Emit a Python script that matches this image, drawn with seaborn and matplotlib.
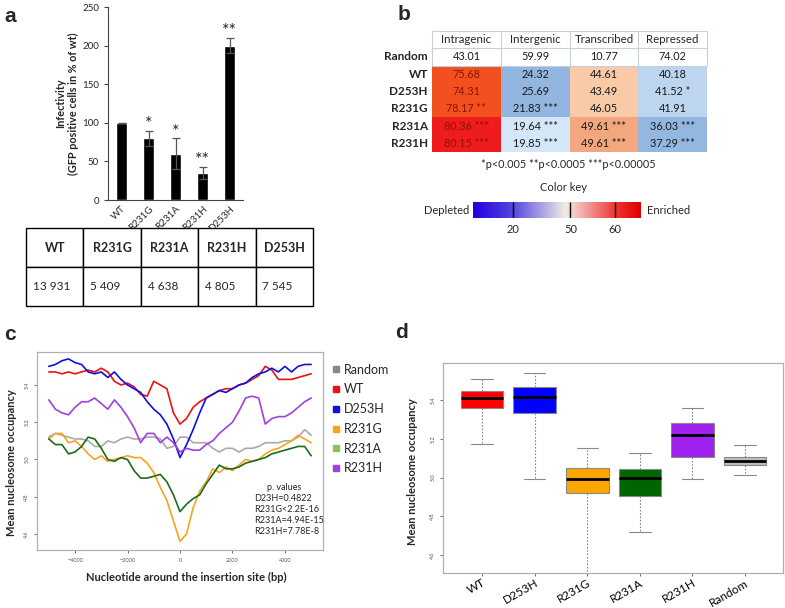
import numpy as np
import pandas as pd
import matplotlib
matplotlib.use("Agg")
import matplotlib.pyplot as plt
from matplotlib.colors import ListedColormap, LinearSegmentedColormap
from matplotlib.lines import Line2D
import seaborn as sns

sns.set_style("white")
plt.rcParams["font.family"] = ["Lato", "DejaVu Sans"]

W, H = 785, 608

# ---------------- panel a ----------------
mutants = ["WT", "R231G", "R231A", "R231H", "D253H"]
infectivity = [100, 80, 60, 35, 200]
infectivity_err = [0, 10, 20, 8, 10]
infectivity_stars = ["", "*", "*", "**", "**"]
table_head = ["WT", "R231G", "R231A", "R231H", "D253H"]
site_counts = ["13 931", "5 409", "4 638", "4 805", "7 545"]

# ---------------- panel b ----------------
regions = ["Intragenic", "Intergenic", "Transcribed", "Repressed"]
b_rows = ["Random", "WT", "D253H", "R231G", "R231A", "R231H"]
pct = [
    [43.01, 59.99, 10.77, 74.02],
    [75.68, 24.32, 44.61, 40.18],
    [74.31, 25.69, 43.49, 41.52],
    [78.17, 21.83, 46.05, 41.91],
    [80.36, 19.64, 49.61, 36.03],
    [80.15, 19.85, 49.61, 37.29],
]
pct_stars = [
    ["", "", "", ""],
    ["", "", "", ""],
    ["", "", "", "*"],
    ["**", "***", "", ""],
    ["***", "***", "***", "***"],
    ["***", "***", "***", "***"],
]
shade = [
    [0, 0, 0, 0],
    [1, 3, 5, 7],
    [1, 3, 5, 7],
    [1, 3, 5, 7],
    [2, 4, 6, 8],
    [2, 4, 6, 8],
]
shade_colors = ["#ffffff", "#f2501f", "#ee1c1c", "#92b6df", "#d3e7f8",
                "#f8caa8", "#f2a77e", "#bed5ef", "#93b7e0"]
key_ticks = ["20", "50", "60"]
key_pos = [0.24, 0.58, 0.845]

# ---------------- panel c ----------------
positions = list(range(-5000, 5001, 250))
occ_random = [5.12, 5.14, 5.13, 5.12, 5.11, 5.11, 5.10, 5.07, 5.07, 5.10, 5.09,
              5.11, 5.12, 5.11, 5.11, 5.12, 5.12, 5.11, 5.06, 5.07, 5.12,
              5.12, 5.09, 5.09, 5.09, 5.06, 5.04, 5.06, 5.06, 5.04, 5.06,
              5.06, 5.07, 5.09, 5.09, 5.09, 5.10, 5.10, 5.12, 5.16, 5.13]
occ_wt = [5.47, 5.47, 5.46, 5.47, 5.46, 5.47, 5.48, 5.47, 5.49, 5.47, 5.42,
          5.40, 5.41, 5.39, 5.35, 5.34, 5.42, 5.40, 5.38, 5.25, 5.19,
          5.22, 5.28, 5.31, 5.33, 5.35, 5.37, 5.38, 5.38, 5.40, 5.41,
          5.43, 5.45, 5.50, 5.48, 5.43, 5.43, 5.43, 5.44, 5.45, 5.46]
occ_d253h = [5.50, 5.51, 5.53, 5.54, 5.52, 5.51, 5.47, 5.46, 5.47, 5.44, 5.47,
             5.43, 5.40, 5.38, 5.36, 5.31, 5.27, 5.24, 5.19, 5.11, 5.01,
             5.08, 5.16, 5.25, 5.33, 5.35, 5.37, 5.36, 5.38, 5.40, 5.41,
             5.44, 5.46, 5.47, 5.49, 5.47, 5.50, 5.47, 5.50, 5.51, 5.51]
occ_r231g = [5.11, 5.14, 5.14, 5.09, 5.10, 5.07, 5.03, 5.00, 5.02, 4.99, 5.00,
             5.01, 5.02, 5.01, 5.01, 4.98, 4.93, 4.85, 4.78, 4.67, 4.56,
             4.60, 4.74, 4.83, 4.88, 4.95, 4.93, 4.96, 4.94, 4.97, 5.00,
             4.99, 5.00, 5.03, 5.05, 5.06, 5.08, 5.10, 5.13, 5.11, 5.09]
occ_r231a = [5.11, 5.08, 5.08, 5.03, 5.04, 5.07, 5.12, 5.11, 5.06, 5.00, 4.99,
             5.01, 5.00, 4.94, 4.90, 4.90, 4.91, 4.92, 4.88, 4.81, 4.72,
             4.76, 4.79, 4.81, 4.87, 4.92, 4.97, 4.95, 4.95, 4.96, 4.98,
             4.99, 5.00, 5.01, 5.03, 5.04, 5.05, 5.06, 5.07, 5.07, 5.02]
occ_r231h = [5.32, 5.27, 5.25, 5.24, 5.28, 5.31, 5.31, 5.33, 5.30, 5.27, 5.32,
             5.28, 5.23, 5.17, 5.09, 5.14, 5.14, 5.09, 5.12, 5.09, 5.04,
             5.06, 5.05, 5.05, 5.08, 5.10, 5.14, 5.17, 5.20, 5.26, 5.33,
             5.34, 5.33, 5.19, 5.22, 5.23, 5.23, 5.25, 5.28, 5.31, 5.33]
line_names = ["Random", "WT", "D253H", "R231G", "R231A", "R231H"]
line_colors = ["#aaaaaa", "#ee1111", "#1010dd", "#f7a520", "#1d6b1d", "#a040e0"]
legend_colors = ["#888888", "#ee1111", "#1010dd", "#f7a520", "#8fbf5a", "#a040e0"]
pvalue_lines = ["D23H=0.4822", "R231G<2.2E-16", "R231A=4.94E-15", "R231H=7.78E-8"]

# ---------------- panel d ----------------
box_groups = ["WT", "D253H", "R231G", "R231A", "R231H", "Random"]
box_low = [5.174, 4.99, 4.50, 4.718, 4.99, 5.015]
box_q1 = [5.359, 5.332, 4.918, 4.904, 5.106, 5.063]
box_med = [5.409, 5.414, 4.991, 4.995, 5.217, 5.085]
box_q3 = [5.448, 5.468, 5.051, 5.046, 5.280, 5.106]
box_high = [5.506, 5.540, 5.152, 5.128, 5.357, 5.166]
box_colors = ["#ff0000", "#0000ff", "#ffa500", "#006400", "#a020f0", "#bebebe"]


def add_ax(x0, y0, x1, y1):
    return fig.add_axes([x0 / W, 1 - y1 / H, (x1 - x0) / W, (y1 - y0) / H])


def ftext(x, y, s, **kw):
    fig.text(x / W, 1 - y / H, s, **kw)


fig = plt.figure(figsize=(W / 100, H / 100), dpi=100)

for lbl, (x, y) in zip("abcd", [(10, 17), (404, 14), (10, 335), (402, 332)]):
    ftext(x, y, lbl, fontsize=15, fontweight="bold", family="Liberation Sans",
          ha="center", va="center")

# --- a: bar chart ---
axa = add_ax(108, 7, 243, 200)
sns.barplot(x=mutants, y=infectivity, color="black", width=0.38, ax=axa)
axa.errorbar(range(len(mutants)), infectivity, yerr=infectivity_err, fmt="none",
             ecolor="#555555", elinewidth=0.9, capsize=3, capthick=0.9)
for i, (v, e, s) in enumerate(zip(infectivity, infectivity_err, infectivity_stars)):
    axa.text(i, v + e - 2, s, ha="center", va="bottom", fontsize=13)
axa.set_xlim(-0.5, 4.5)
axa.set_ylim(0, 250)
axa.set_yticks([0, 50, 100, 150, 200, 250])
axa.set_xticks(np.arange(-0.5, 5, 1), minor=True)
axa.tick_params(axis="x", which="major", length=0, labelsize=7, pad=3)
axa.tick_params(axis="x", which="minor", length=4, color="#444444", width=0.8)
axa.tick_params(axis="y", length=3, labelsize=7, color="#444444", width=0.8, left=True)
plt.setp(axa.get_xticklabels(), rotation=45, ha="right", rotation_mode="anchor")
for side in ["top", "right"]:
    axa.spines[side].set_visible(False)
for side in ["left", "bottom"]:
    axa.spines[side].set_color("#444444")
    axa.spines[side].set_linewidth(0.8)
axa.set_ylabel("Infectivity\n(GFP positive cells in % of wt)", fontsize=7.8,
               fontweight="bold", va="center", ma="center")
axa.yaxis.set_label_coords((67 - 108) / 135, 0.5)

# --- a: table ---
axt = add_ax(26, 228, 313, 306)
axt.axis("off")
tab = axt.table(cellText=[site_counts], colLabels=table_head, cellLoc="left",
                colLoc="center", bbox=[0, 0, 1, 1])
tab.auto_set_font_size(False)
for (r, c), cell in tab.get_celld().items():
    cell.set_linewidth(1.0)
    cell.set_edgecolor("black")
    cell.PAD = 0.12
    if r == 0:
        cell.set_text_props(fontweight="bold", fontsize=9)
    else:
        cell.set_text_props(fontsize=8.5)

# --- b: coloured table ---
axb = add_ax(432, 31, 707, 152)
annot = [[f"{v:.2f} {s}".strip() for v, s in zip(rv, rs)] for rv, rs in zip(pct, pct_stars)]
sns.heatmap(np.array(shade), cmap=ListedColormap(shade_colors), vmin=-0.5,
            vmax=len(shade_colors) - 0.5, annot=np.array(annot), fmt="", cbar=False,
            linewidths=0, xticklabels=False, yticklabels=b_rows,
            annot_kws={"fontsize": 7.8, "color": "#1a1a1a"}, ax=axb)
axb.set_ylim(len(b_rows), -1)
for t in axb.texts:
    t.set_color("#1a1a1a")
for i, t in enumerate(axb.texts):
    r, c = divmod(i, len(regions))
    if c == 0 and r > 0:
        t.set_color("#8a1500")
for j, reg in enumerate(regions):
    axb.text(j + 0.5, -0.5, reg, ha="center", va="center", fontsize=8.3)
axb.hlines([-1, 0, 1], 0, len(regions), color="#c5d0dc", lw=0.8, clip_on=False)
axb.vlines(range(len(regions) + 1), -1, 1, color="#c5d0dc", lw=0.8, clip_on=False)
axb.tick_params(axis="y", length=0, pad=3)
plt.setp(axb.get_yticklabels(), rotation=0, fontweight="bold", fontsize=8.5)

ftext(568, 165, "*p<0.005 **p<0.0005 ***p<0.00005", fontsize=7.8, ha="center", va="center")
ftext(563, 187, "Color key", fontsize=8, ha="center", va="center")
ftext(447, 210, "Depleted", fontsize=8, ha="center", va="center")
ftext(669, 210, "Enriched", fontsize=8, ha="center", va="center")

key_cmap = LinearSegmentedColormap.from_list(
    "key", [(0, "#2200dd"), (0.24, "#5548e0"), (0.55, "#f2ece6"),
            (0.85, "#f03535"), (1, "#dd0000")])
axk = add_ax(473, 202, 641, 218)
axk.imshow(np.linspace(0, 1, 256)[None, :], aspect="auto", cmap=key_cmap,
           extent=(0, 1, 0, 1))
axk.vlines(key_pos, 0, 1, color="black", lw=1)
axk.set_xlim(0, 1)
axk.set_ylim(0, 1)
axk.axis("off")
for p, t in zip(key_pos, key_ticks):
    axk.text(p, -0.35, t, ha="center", va="top", fontsize=8, transform=axk.transAxes)

# --- c: occupancy profiles ---
axc = add_ax(37, 352, 323, 550)
occ = [occ_random, occ_wt, occ_d253h, occ_r231g, occ_r231a, occ_r231h]
df_c = pd.DataFrame({
    "pos": positions * len(line_names),
    "occ": sum(occ, []),
    "sample": sum([[n] * len(positions) for n in line_names], []),
})
sns.lineplot(data=df_c, x="pos", y="occ", hue="sample", hue_order=line_names,
             palette=line_colors, linewidth=1.2, errorbar=None, legend=False, ax=axc)
axc.set_xlim(-5450, 5450)
axc.set_ylim(4.514, 5.577)
axc.set_xticks([-4000, -2000, 0, 2000, 4000])
axc.set_yticks([4.6, 4.8, 5.0, 5.2, 5.4])
axc.tick_params(axis="both", labelsize=4, colors="#555555", length=2, width=0.6,
                bottom=True, left=True)
plt.setp(axc.get_yticklabels(), rotation=90, va="center")
for sp in axc.spines.values():
    sp.set_color("#b0b0b0")
    sp.set_linewidth(0.9)
axc.set_xlabel("Nucleotide around the insertion site (bp)", fontsize=8,
               fontweight="bold", va="center")
axc.xaxis.set_label_coords((186 - 37) / 286, (550 - 577) / 198)
axc.set_ylabel("Mean nucleosome occupancy", fontsize=8, fontweight="bold", va="center")
axc.yaxis.set_label_coords((12 - 37) / 286, (550 - 463) / 198)
handles = [Line2D([], [], marker="s", linestyle="", color=c, markersize=4.5)
           for c in legend_colors]
axc.legend(handles, line_names, loc="upper left", bbox_to_anchor=(1.0, 0.985),
           frameon=False, fontsize=9, handlelength=0.6, handletextpad=0.4,
           labelspacing=0.62, borderaxespad=0.3)
axc.text(0.866, 0.315, "p. values", transform=axc.transAxes, fontsize=6.5,
         ha="center", va="center")
for k, s in enumerate(pvalue_lines):
    axc.text(0.758, 0.26 - k * 0.056, s, transform=axc.transAxes, fontsize=6.5,
             ha="left", va="center")

# --- d: box plot ---
axd = add_ax(443, 363, 783, 573)
df_d = pd.DataFrame({
    "group": sum([[g] * 5 for g in box_groups], []),
    "val": sum([[a, b, c, d, e] for a, b, c, d, e in
                zip(box_low, box_q1, box_med, box_q3, box_high)], []),
})
sns.boxplot(data=df_d, x="group", y="val", hue="group", order=box_groups,
            hue_order=box_groups, palette=box_colors, saturation=1, whis=(0, 100),
            width=0.81, linewidth=0.8, linecolor="#888888", legend=False, ax=axd,
            medianprops={"color": "black", "linewidth": 2},
            whiskerprops={"color": "#888888", "linestyle": (0, (1.5, 1.5)), "linewidth": 0.8},
            capprops={"color": "#888888", "linewidth": 0.8})
axd.set_xlim(-0.74, 5.72)
axd.set_ylim(4.508, 5.59)
axd.set_yticks([4.6, 4.8, 5.0, 5.2, 5.4])
axd.tick_params(axis="y", labelsize=4, colors="#555555", length=2, width=0.6, left=True)
axd.tick_params(axis="x", labelsize=8.5, length=2, width=0.6, colors="#555555",
                labelcolor="black", bottom=True, pad=1)
plt.setp(axd.get_yticklabels(), rotation=90, va="center")
plt.setp(axd.get_xticklabels(), rotation=30, ha="right", va="top",
         rotation_mode="anchor")
for sp in axd.spines.values():
    sp.set_color("#b0b0b0")
    sp.set_linewidth(0.9)
axd.set_xlabel("")
axd.set_ylabel("Mean nucleosome occupancy", fontsize=8, fontweight="bold", va="center")
axd.yaxis.set_label_coords((413 - 443) / 340, (573 - 472) / 210)

fig.savefig("out.png", dpi=100)
